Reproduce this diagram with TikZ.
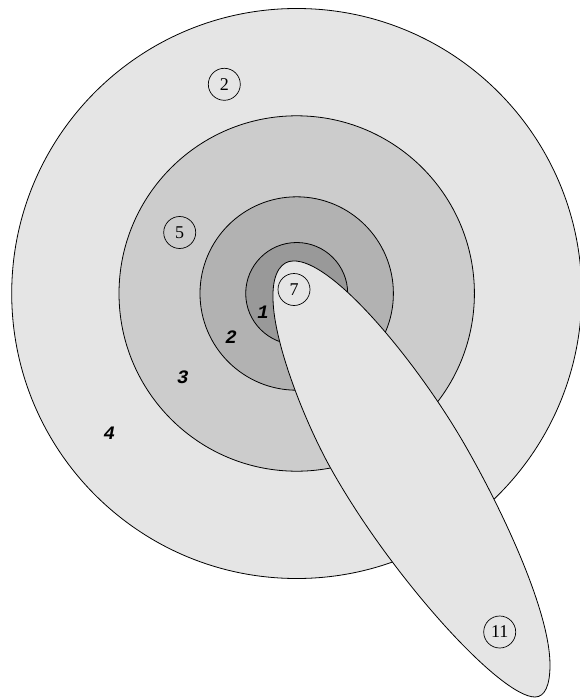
\documentclass[tikz,border=0pt]{standalone}
\usepackage{fontspec}
\setmainfont{Liberation Serif}
\newfontfamily\monobi{Liberation Mono}[BoldItalicFont={* Bold Italic}]
\definecolor{lev4}{gray}{0.9}
\definecolor{lev3}{gray}{0.8}
\definecolor{lev2}{gray}{0.7}
\definecolor{lev1}{gray}{0.6}
\begin{document}
\begin{tikzpicture}[x=1pt,y=-1pt,line width=0.8pt,
  ring/.style={draw=black},
  cnum/.style={circle,draw=black,line width=0.7pt,inner sep=0pt,minimum size=32pt,font=\fontsize{18}{18}\selectfont},
  lvl/.style={font=\fontsize{19}{19}\selectfont\monobi\bfseries\itshape}]
\useasboundingbox (0,0) rectangle (579,698);
\coordinate (c) at (296.7,293.5);
\draw[ring,fill=lev4] (c) circle[radius=285];
\draw[ring,fill=lev3] (c) circle[radius=177.7];
\draw[ring,fill=lev2] (c) circle[radius=96.7];
\draw[ring,fill=lev1] (c) circle[radius=51];
\draw[ring,fill=lev4] (293,261)
  .. controls (332,259) and (415,360) .. (462,440)
  .. controls (500,505) and (550,610) .. (550,665)
  .. controls (550,685) and (545,697) .. (535,697)
  .. controls (500,697) and (390,575) .. (330,467)
  .. controls (305,422) and (272,340) .. (273,295)
  .. controls (273,272) and (282,261) .. cycle;
\node[cnum] (n2) at (224.3,84.3) {2};
\node[cnum] (n5) at (179.7,232.5) {5};
\node[cnum] (n7) at (294,289.5) {7};
\node[cnum] (n11) at (499.7,632) {11};
\node[lvl] (l1) at (263,312.7) {1};
\node[lvl] (l2) at (231,336.7) {2};
\node[lvl] (l3) at (182.7,377.3) {3};
\node[lvl] (l4) at (109.3,433.3) {4};
\end{tikzpicture}
\end{document}
